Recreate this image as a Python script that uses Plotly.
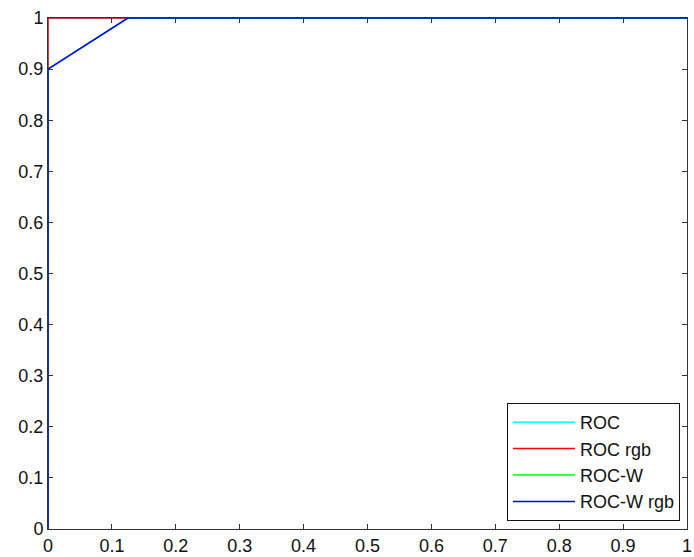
import plotly.graph_objects as go

# ROC curve data (false positive rate, true positive rate)
roc_fpr = [0, 0, 1]
roc_tpr = [0, 1, 1]
roc_rgb_fpr = [0, 0, 1]
roc_rgb_tpr = [0, 1, 1]
rocw_fpr = [0, 0, 0.125, 1]
rocw_tpr = [0, 0.9, 1, 1]
rocw_rgb_fpr = [0, 0, 0.125, 1]
rocw_rgb_tpr = [0, 0.9, 1, 1]

names = ["ROC", "ROC rgb", "ROC-W", "ROC-W rgb"]
colors = ["#00ffff", "#ff0000", "#00ff00", "#0000ff"]
xs = [roc_fpr, roc_rgb_fpr, rocw_fpr, rocw_rgb_fpr]
ys = [roc_tpr, roc_rgb_tpr, rocw_tpr, rocw_rgb_tpr]

fig = go.Figure()
for i, (n, c, x, y) in enumerate(zip(names, colors, xs, ys)):
    fig.add_trace(go.Scatter(x=x, y=y, mode="lines", name=n,
                             line=dict(color=c, width=1.5)))

FONT = "Liberation Sans, Arial, sans-serif"
ax = dict(range=[0, 1], dtick=0.1, tick0=0, showgrid=False, zeroline=False,
          showline=True, mirror="ticks", linecolor="#333333", linewidth=1,
          ticks="inside", ticklen=5, tickcolor="#333333", automargin=False,
          tickfont=dict(family=FONT, size=18, color="#111111"))

fig.update_layout(
    width=694, height=557,
    margin=dict(l=48, r=7, t=18, b=28),
    paper_bgcolor="white", plot_bgcolor="white",
    xaxis=ax, yaxis=ax,
    showlegend=True,
    legend=dict(x=0.989, y=0.0157, xanchor="right", yanchor="bottom",
                bgcolor="white", bordercolor="#111111", borderwidth=1,
                font=dict(family=FONT, size=18, color="#111111"),
                itemwidth=62),
)
fig.write_html("out.html", config={"displayModeBar": False},
               post_script="document.body.style.margin='0';")
